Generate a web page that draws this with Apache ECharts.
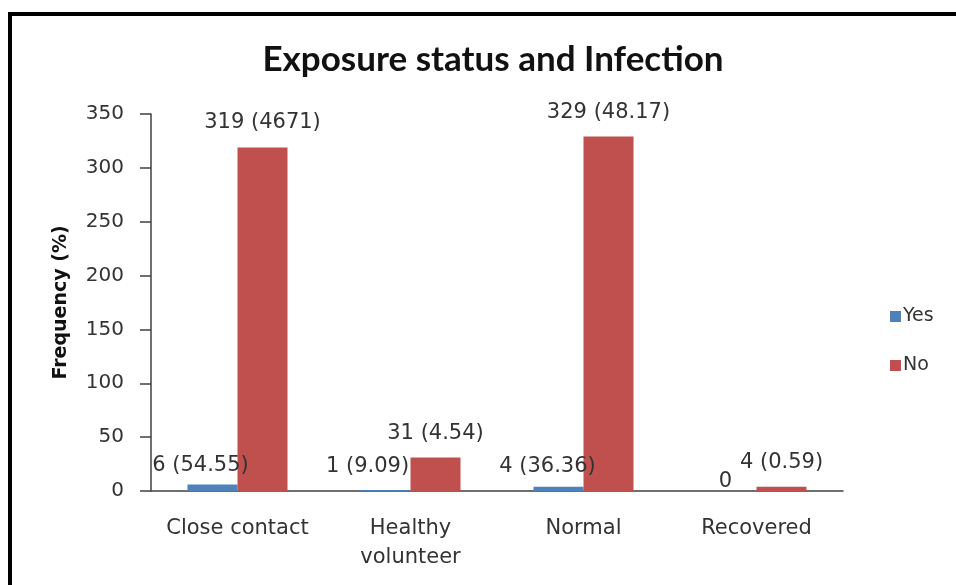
<!DOCTYPE html>
<html>
<head>
<meta charset="utf-8">
<script src="https://cdn.jsdelivr.net/npm/echarts@6/dist/echarts.min.js"></script>
<style>
  html, body { margin: 0; padding: 0; background: #fff; }
  #chart { width: 956px; height: 585px; }
</style>
</head>
<body>
<div id="chart"></div>
<script>
const categories = ["Close contact", "Healthy\nvolunteer", "Normal", "Recovered"];
const yesCount = [6, 1, 4, 0];
const yesPct = ["54.55", "9.09", "36.36", null];
const noCount = [319, 31, 329, 4];
const noPct = ["4671", "4.54", "48.17", "0.59"];
const yTicks = [0, 50, 100, 150, 200, 250, 300, 350];

// the "Yes" labels were hand-nudged in the original, keep those nudges apart
const yesLabelNudge = [[-12, -8], [-18, -13], [-11, -10], [-6, 1]];

const textColor = "#333";
const axisColor = "#404040";

function pctLabel(count, pct) {
  return pct === null ? String(count) : count + " (" + pct + ")";
}

const chart = echarts.init(document.getElementById("chart"));
chart.setOption({
  animation: false,
  title: {
    text: "Exposure status and Infection",
    top: 37,
    left: 488,
    textAlign: "center",
    textStyle: {
      fontFamily: "Lato",
      fontWeight: "bold",
      fontSize: 35,
      color: "#111"
    }
  },
  graphic: [{
    type: "rect",
    shape: { x: 10, y: 14, width: 1000, height: 700 },
    style: { fill: "none", stroke: "#000", lineWidth: 4 }
  }],
  legend: {
    orient: "vertical",
    left: 885,
    top: 302,
    itemWidth: 11,
    itemHeight: 11,
    itemGap: 30,
    icon: "rect",
    textStyle: { fontFamily: "DejaVu Sans", fontSize: 19, color: textColor, padding: [0, 0, 0, -3] },
    data: ["Yes", "No"]
  },
  grid: { left: 151, right: 113, top: 114, bottom: 94 },
  xAxis: {
    type: "category",
    data: categories,
    axisLine: { lineStyle: { color: axisColor, width: 1.5 } },
    axisTick: { show: false },
    axisLabel: {
      interval: 0,
      hideOverlap: false,
      margin: 23,
      fontFamily: "DejaVu Sans",
      fontSize: 21,
      lineHeight: 29,
      color: textColor
    }
  },
  yAxis: {
    type: "value",
    min: yTicks[0],
    max: yTicks[yTicks.length - 1],
    interval: yTicks[1] - yTicks[0],
    name: "Frequency (%)",
    nameLocation: "middle",
    nameGap: 80,
    nameTextStyle: {
      fontFamily: "DejaVu Sans",
      fontWeight: "bold",
      fontSize: 19,
      color: "#111"
    },
    axisLine: { show: true, lineStyle: { color: axisColor, width: 1.5 } },
    axisTick: { show: true, length: 11, lineStyle: { color: axisColor, width: 1.5 } },
    splitLine: { show: false },
    axisLabel: {
      margin: 27,
      fontFamily: "DejaVu Sans",
      fontSize: 20,
      color: textColor
    }
  },
  series: [
    {
      name: "Yes",
      type: "bar",
      barWidth: 50,
      barGap: "0%",
      itemStyle: { color: "#4F81BD" },
      data: yesCount.map((v, i) => ({
        value: v,
        label: { offset: yesLabelNudge[i] }
      })),
      label: {
        show: true,
        position: "top",
        distance: 0,
        fontFamily: "DejaVu Sans",
        fontSize: 21,
        color: textColor,
        formatter: p => pctLabel(yesCount[p.dataIndex], yesPct[p.dataIndex])
      }
    },
    {
      name: "No",
      type: "bar",
      barWidth: 50,
      barGap: "0%",
      itemStyle: { color: "#C0504D" },
      data: noCount,
      label: {
        show: true,
        position: "top",
        distance: 14,
        fontFamily: "DejaVu Sans",
        fontSize: 21,
        color: textColor,
        formatter: p => pctLabel(noCount[p.dataIndex], noPct[p.dataIndex])
      }
    }
  ]
});
</script>
</body>
</html>
